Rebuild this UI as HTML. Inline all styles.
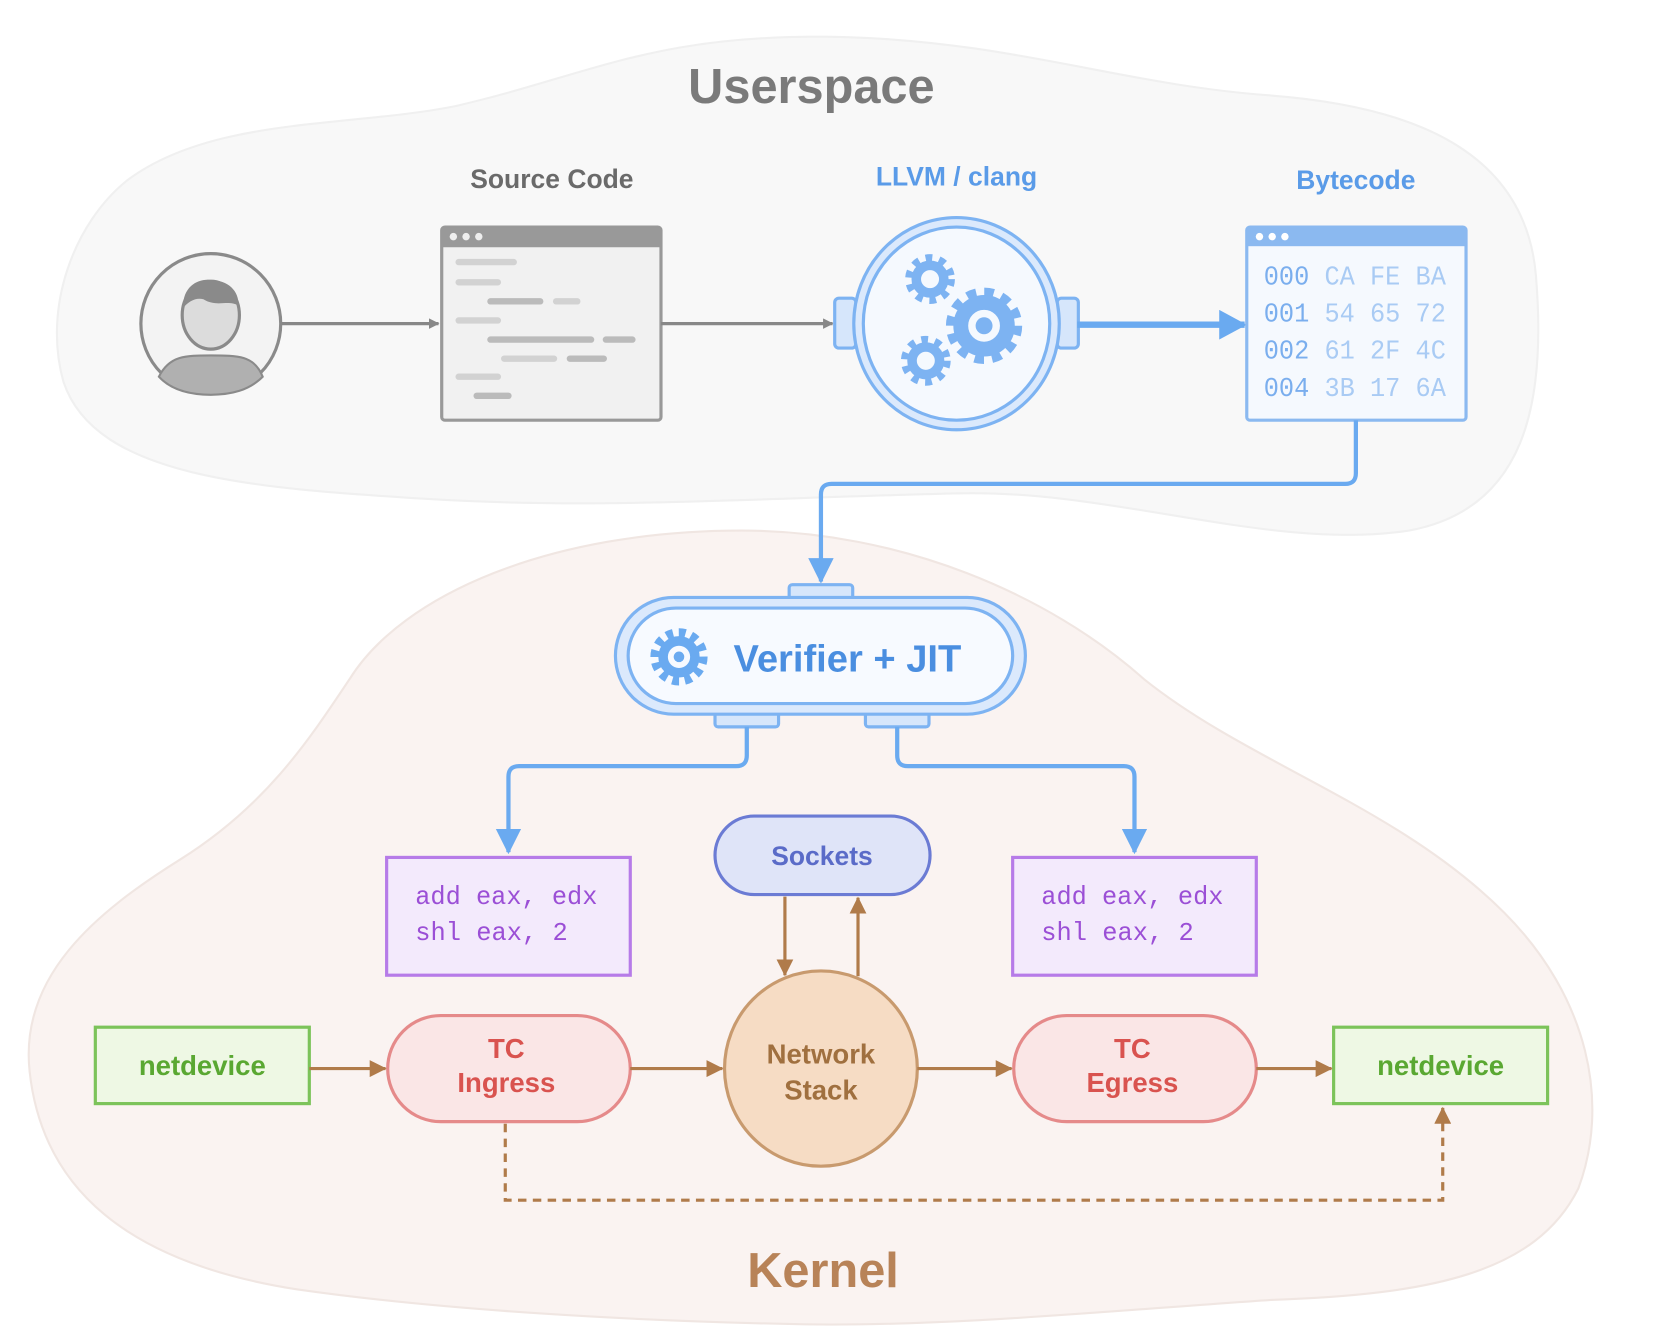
<!DOCTYPE html>
<html><head><meta charset="utf-8"><style>
html,body{margin:0;padding:0;background:#fff;}
svg{display:block;}
text{font-family:"Liberation Sans","DejaVu Sans",sans-serif;}
.mono text{font-family:"Liberation Mono","DejaVu Sans Mono",monospace;}
</style></head><body>
<svg width="1662" height="1336" viewBox="0 0 1569 1259" preserveAspectRatio="none" xmlns="http://www.w3.org/2000/svg">
<defs>
<marker id="ag" markerWidth="10" markerHeight="10" refX="9" refY="5" orient="auto" markerUnits="userSpaceOnUse"><path d="M0,0 L16,8 L0,16z" transform="scale(0.62)" fill="#888"/></marker>
<marker id="ab" markerWidth="26" markerHeight="28" refX="24" refY="14" orient="auto" markerUnits="userSpaceOnUse"><path d="M0,0 L26,14 L0,28z" fill="#6aaaf0"/></marker>
<marker id="ab2" markerWidth="24" markerHeight="24" refX="22" refY="12" orient="auto" markerUnits="userSpaceOnUse"><path d="M0,0 L24,12 L0,24z" fill="#6aaaf0"/></marker>
<marker id="abr" markerWidth="16" markerHeight="16" refX="15" refY="8" orient="auto" markerUnits="userSpaceOnUse"><path d="M0,0 L16,8 L0,16z" fill="#b07b4a"/></marker>
</defs>

<path d="M120,170 C200,110 330,120 430,100 C560,70 620,30 800,35 C960,40 1060,80 1200,90 C1330,100 1440,140 1450,260 C1460,380 1440,480 1330,500 C1200,520 1050,460 900,465 C700,470 560,480 400,470 C240,460 90,450 60,360 C40,290 70,210 120,170z" fill="#f8f8f8" stroke="#f0f0f0" stroke-width="2"/>
<path d="M330,640 C380,560 520,500 700,500 C850,500 990,560 1080,640 C1180,720 1320,760 1420,860 C1500,940 1520,1040 1490,1120 C1450,1200 1350,1220 1200,1225 C1050,1235 900,1250 760,1248 C600,1245 420,1235 280,1215 C120,1190 40,1120 28,1010 C18,920 90,860 170,810 C250,760 290,700 330,640z" fill="#faf3f1" stroke="#f0e6e2" stroke-width="2"/>

<text x="766" y="97" text-anchor="middle" font-size="46" font-weight="bold" fill="#7a7a7a">Userspace</text>
<text x="777" y="1213" text-anchor="middle" font-size="46" font-weight="bold" fill="#b88358">Kernel</text>

<text x="521" y="177" text-anchor="middle" font-size="25" font-weight="bold" fill="#6a6a6a">Source Code</text>
<text x="903" y="175" text-anchor="middle" font-size="25" font-weight="bold" fill="#5a9be8">LLVM / clang</text>
<text x="1280" y="178" text-anchor="middle" font-size="25" font-weight="bold" fill="#5a9be8">Bytecode</text>

<circle cx="199" cy="305" r="66" fill="#f3f3f3" stroke="#8a8a8a" stroke-width="3"/>
<path d="M150,355 C160,335 175,335 199,335 C225,335 240,335 248,355 C235,368 218,372 199,372 C180,372 162,368 150,355z" fill="#b0b0b0" stroke="#8a8a8a" stroke-width="2"/>
<ellipse cx="199" cy="297" rx="27" ry="32" fill="#dcdcdc" stroke="#8a8a8a" stroke-width="3"/>
<path d="M173,290 C172,268 190,262 199,264 C215,264 226,274 225,288 C215,282 205,290 192,282 C185,280 178,284 173,290z" fill="#8a8a8a"/>
<line x1="265" y1="305" x2="414" y2="305" stroke="#888" stroke-width="3" marker-end="url(#ag)"/>

<rect x="417" y="214" width="207" height="182" rx="3" fill="#f1f1f1" stroke="#999" stroke-width="3"/>
<rect x="417" y="214" width="207" height="19" fill="#999"/>
<circle cx="428" cy="223" r="3.5" fill="#eee"/><circle cx="440" cy="223" r="3.5" fill="#eee"/><circle cx="452" cy="223" r="3.5" fill="#eee"/>
<g stroke-linecap="round" stroke-width="6">
<line x1="433" y1="247" x2="485" y2="247" stroke="#d2d2d2"/>
<line x1="433" y1="266" x2="470" y2="266" stroke="#d2d2d2"/>
<line x1="463" y1="284" x2="510" y2="284" stroke="#bbb"/>
<line x1="525" y1="284" x2="545" y2="284" stroke="#d2d2d2"/>
<line x1="433" y1="302" x2="470" y2="302" stroke="#d2d2d2"/>
<line x1="463" y1="320" x2="558" y2="320" stroke="#bbb"/>
<line x1="572" y1="320" x2="597" y2="320" stroke="#bbb"/>
<line x1="476" y1="338" x2="523" y2="338" stroke="#d2d2d2"/>
<line x1="538" y1="338" x2="570" y2="338" stroke="#bbb"/>
<line x1="433" y1="355" x2="470" y2="355" stroke="#d2d2d2"/>
<line x1="450" y1="373" x2="480" y2="373" stroke="#bbb"/>
</g>
<line x1="624" y1="305" x2="786" y2="305" stroke="#888" stroke-width="3" marker-end="url(#ag)"/>

<rect x="788" y="281" width="20" height="47" rx="4" fill="#d6e6fb" stroke="#7db3f2" stroke-width="3"/>
<rect x="998" y="281" width="20" height="47" rx="4" fill="#d6e6fb" stroke="#7db3f2" stroke-width="3"/>
<ellipse cx="903" cy="305" rx="97" ry="100" fill="#dbe9fc" stroke="#7db3f2" stroke-width="3"/>
<ellipse cx="903" cy="305" rx="88" ry="91" fill="#f5f9fe" stroke="#7db3f2" stroke-width="3"/>
<g fill="none" stroke="#7db3f2">
<circle cx="929" cy="307" r="30" stroke-width="12" stroke-dasharray="8.5 7.2"/>
<circle cx="929" cy="307" r="22" stroke-width="14"/>
<circle cx="878" cy="263" r="19" stroke-width="9" stroke-dasharray="6 6.2"/>
<circle cx="878" cy="263" r="13" stroke-width="9"/>
<circle cx="874" cy="340" r="19" stroke-width="9" stroke-dasharray="6 6.2"/>
<circle cx="874" cy="340" r="13" stroke-width="9"/>
</g>
<circle cx="929" cy="307" r="8" fill="#7db3f2"/>
<line x1="1017" y1="306" x2="1175" y2="306" stroke="#6aaaf0" stroke-width="6" marker-end="url(#ab)"/>

<rect x="1177" y="214" width="207" height="182" rx="3" fill="#f5f9fe" stroke="#8bb9f0" stroke-width="3"/>
<rect x="1177" y="214" width="207" height="18" fill="#8bb9f0"/>
<circle cx="1189" cy="223" r="3.5" fill="#fff"/><circle cx="1201" cy="223" r="3.5" fill="#fff"/><circle cx="1213" cy="223" r="3.5" fill="#fff"/>
<g class="mono" font-size="25" fill="#a9cbf4">
<text x="1193" y="268" textLength="172" lengthAdjust="spacingAndGlyphs"><tspan fill="#7aaeee">000</tspan> CA FE BA</text>
<text x="1193" y="303" textLength="172" lengthAdjust="spacingAndGlyphs"><tspan fill="#7aaeee">001</tspan> 54 65 72</text>
<text x="1193" y="338" textLength="172" lengthAdjust="spacingAndGlyphs"><tspan fill="#7aaeee">002</tspan> 61 2F 4C</text>
<text x="1193" y="373" textLength="172" lengthAdjust="spacingAndGlyphs"><tspan fill="#7aaeee">004</tspan> 3B 17 6A</text>
</g>
<path d="M1280,396 V446 Q1280,456 1270,456 H785 Q775,456 775,466 V548" fill="none" stroke="#6aaaf0" stroke-width="4" marker-end="url(#ab2)"/>

<rect x="745" y="551" width="60" height="14" rx="3" fill="#d6e6fb" stroke="#7db3f2" stroke-width="3"/>
<rect x="675" y="671" width="60" height="14" rx="3" fill="#d6e6fb" stroke="#7db3f2" stroke-width="3"/>
<rect x="817" y="671" width="60" height="14" rx="3" fill="#d6e6fb" stroke="#7db3f2" stroke-width="3"/>
<rect x="581" y="563" width="387" height="110" rx="55" fill="#dbe9fc" stroke="#7db3f2" stroke-width="3"/>
<rect x="593" y="573" width="363" height="90" rx="45" fill="#f7faff" stroke="#7db3f2" stroke-width="3"/>
<g fill="none" stroke="#6aaaf0">
<circle cx="641" cy="619" r="23" stroke-width="8" stroke-dasharray="6.5 5.5"/>
<circle cx="641" cy="619" r="15" stroke-width="9"/>
</g>
<circle cx="641" cy="619" r="5" fill="#6aaaf0"/>
<text x="800" y="633" text-anchor="middle" font-size="36" font-weight="bold" fill="#4a8ee0">Verifier + JIT</text>

<path d="M705,685 V712 Q705,722 695,722 H490 Q480,722 480,732 V803" fill="none" stroke="#6aaaf0" stroke-width="4" marker-end="url(#ab2)"/>
<path d="M847,685 V712 Q847,722 857,722 H1061 Q1071,722 1071,732 V803" fill="none" stroke="#6aaaf0" stroke-width="4" marker-end="url(#ab2)"/>

<rect x="365" y="808" width="230" height="111" fill="#f3eafc" stroke="#b67be8" stroke-width="3"/>
<rect x="956" y="808" width="230" height="111" fill="#f3eafc" stroke="#b67be8" stroke-width="3"/>
<g class="mono" font-size="24" fill="#9b4fd6">
<text x="392" y="852" textLength="172" lengthAdjust="spacingAndGlyphs">add eax, edx</text><text x="392" y="886" textLength="144" lengthAdjust="spacingAndGlyphs">shl eax, 2</text>
<text x="983" y="852" textLength="172" lengthAdjust="spacingAndGlyphs">add eax, edx</text><text x="983" y="886" textLength="144" lengthAdjust="spacingAndGlyphs">shl eax, 2</text>
</g>

<rect x="675" y="769" width="203" height="74" rx="37" fill="#dfe4f8" stroke="#6b7bd4" stroke-width="3"/>
<text x="776" y="815" text-anchor="middle" font-size="25" font-weight="bold" fill="#5a6bc8">Sockets</text>
<line x1="741" y1="845" x2="741" y2="919" stroke="#b07b4a" stroke-width="3" marker-end="url(#abr)"/>
<line x1="810" y1="920" x2="810" y2="846" stroke="#b07b4a" stroke-width="3" marker-end="url(#abr)"/>

<rect x="90" y="968" width="202" height="72" fill="#eef8e4" stroke="#7cc35a" stroke-width="3"/>
<text x="191" y="1013" text-anchor="middle" font-size="26" font-weight="bold" fill="#5aa832">netdevice</text>
<rect x="1259" y="968" width="202" height="72" fill="#eef8e4" stroke="#7cc35a" stroke-width="3"/>
<text x="1360" y="1013" text-anchor="middle" font-size="26" font-weight="bold" fill="#5aa832">netdevice</text>

<rect x="366" y="957" width="229" height="100" rx="50" fill="#fae6e6" stroke="#e58a8a" stroke-width="3"/>
<text x="478" y="997" text-anchor="middle" font-size="26" font-weight="bold" fill="#d9534f">TC</text>
<text x="478" y="1029" text-anchor="middle" font-size="26" font-weight="bold" fill="#d9534f">Ingress</text>
<rect x="957" y="957" width="229" height="100" rx="50" fill="#fae6e6" stroke="#e58a8a" stroke-width="3"/>
<text x="1069" y="997" text-anchor="middle" font-size="26" font-weight="bold" fill="#d9534f">TC</text>
<text x="1069" y="1029" text-anchor="middle" font-size="26" font-weight="bold" fill="#d9534f">Egress</text>

<ellipse cx="775" cy="1007" rx="91" ry="92" fill="#f6dcc4" stroke="#c89a6e" stroke-width="3"/>
<text x="775" y="1002" text-anchor="middle" font-size="26" font-weight="bold" fill="#a0703f">Network</text>
<text x="775" y="1036" text-anchor="middle" font-size="26" font-weight="bold" fill="#a0703f">Stack</text>

<g stroke="#b07b4a" stroke-width="3">
<line x1="292" y1="1007" x2="364" y2="1007" marker-end="url(#abr)"/>
<line x1="595" y1="1007" x2="682" y2="1007" marker-end="url(#abr)"/>
<line x1="866" y1="1007" x2="955" y2="1007" marker-end="url(#abr)"/>
<line x1="1186" y1="1007" x2="1257" y2="1007" marker-end="url(#abr)"/>
</g>
<path d="M477,1059 V1131 H1362 V1044" fill="none" stroke="#b07b4a" stroke-width="3" stroke-dasharray="8 6" marker-end="url(#abr)"/>
</svg>
</body></html>
